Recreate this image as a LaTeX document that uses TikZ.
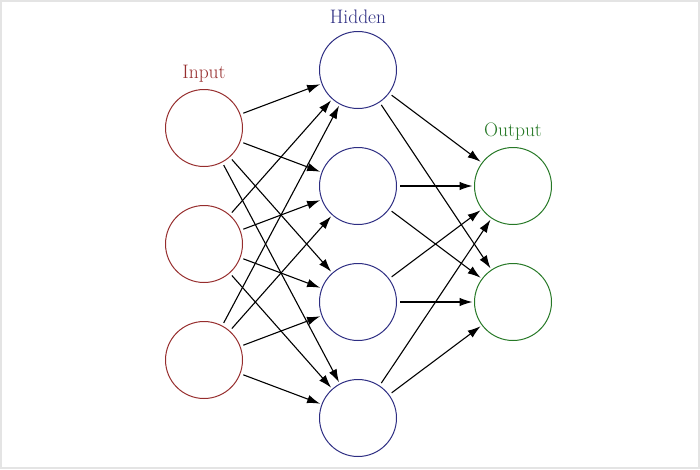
\documentclass[tikz,border=0pt]{standalone}
\usetikzlibrary{arrows.meta,positioning}
\definecolor{incol}{RGB}{150,45,45}
\definecolor{hidcol}{RGB}{45,45,130}
\definecolor{outcol}{RGB}{38,120,38}
\definecolor{framecol}{RGB}{228,228,228}
\begin{document}
\begin{tikzpicture}[x=1pt,y=-1pt,
  neuron/.style={circle,draw,line width=1pt,minimum size=77pt,inner sep=0pt},
  inneuron/.style={neuron,draw=incol},
  hidneuron/.style={neuron,draw=hidcol},
  outneuron/.style={neuron,draw=outcol},
  lab/.style={font=\fontsize{19.5}{23}\selectfont,inner sep=0pt},
  conn/.style={line width=1.1pt,-{Latex[length=13pt,width=8.5pt]},shorten <=3pt,shorten >=1.5pt}]
\useasboundingbox (0,0) rectangle (700,469);
\draw[framecol,line width=2pt] (1,1) rectangle (699,468);
% input layer
\node[inneuron] (i1) at (204,128) {};
\node[inneuron] (i2) at (204,244) {};
\node[inneuron] (i3) at (204,360) {};
% hidden layer
\node[hidneuron] (h1) at (358,70) {};
\node[hidneuron] (h2) at (358,186) {};
\node[hidneuron] (h3) at (358,302) {};
\node[hidneuron] (h4) at (358,418) {};
% output layer
\node[outneuron] (o1) at (513,186) {};
\node[outneuron] (o2) at (513,302) {};
% labels
\node[lab,text=incol,above=7pt of i1] (linput) {Input};
\node[lab,text=hidcol,above=7pt of h1] (lhidden) {Hidden};
\node[lab,text=outcol,above=7pt of o1] (loutput) {Output};
% connections
\foreach \s in {i1,i2,i3}
  \foreach \t in {h1,h2,h3,h4}
    \draw[conn] (\s) -- (\t);
\foreach \s in {h1,h2,h3,h4}
  \foreach \t in {o1,o2}
    \draw[conn] (\s) -- (\t);
\end{tikzpicture}
\end{document}
